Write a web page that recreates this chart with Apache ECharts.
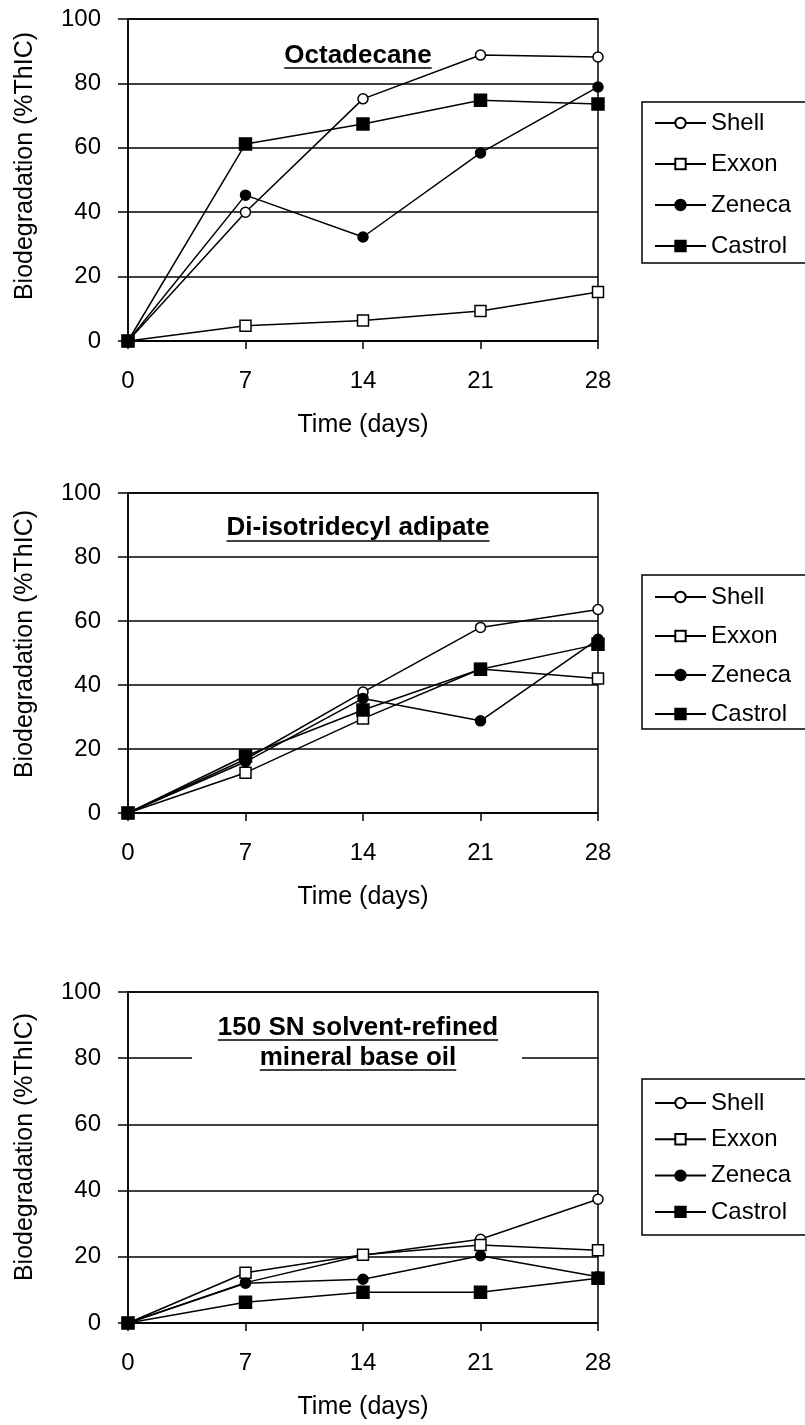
<!DOCTYPE html>
<html><head><meta charset="utf-8">
<script src="https://cdn.jsdelivr.net/npm/echarts@6/dist/echarts.min.js"></script>
<style>html,body{margin:0;padding:0;background:#fff}#c{width:805px;height:1425px}</style>
</head><body><div id="c"></div>
<script>
// ---- data ----
const days = [0, 7, 14, 21, 28];
const yTicks = [0, 20, 40, 60, 80, 100];
const seriesNames = ['Shell', 'Exxon', 'Zeneca', 'Castrol'];
const xTitle = 'Time (days)';
const yTitle = 'Biodegradation (%ThIC)';

// Chart 1: Octadecane
const octTitle = ['Octadecane'];
const octShell   = [0, 40.0, 75.2, 88.8, 88.2];
const octExxon   = [0, 4.7, 6.4, 9.3, 15.2];
const octZeneca  = [0, 45.3, 32.3, 58.4, 78.9];
const octCastrol = [0, 61.2, 67.4, 74.8, 73.6];

// Chart 2: Di-isotridecyl adipate
const adiTitle = ['Di-isotridecyl adipate'];
const adiShell   = [0, 16.8, 37.8, 58.0, 63.6];
const adiExxon   = [0, 12.6, 29.5, 45.0, 42.0];
const adiZeneca  = [0, 16.0, 35.8, 28.8, 54.3];
const adiCastrol = [0, 17.8, 32.2, 44.9, 52.7];

// Chart 3: 150 SN solvent-refined mineral base oil
const snTitle = ['150 SN solvent-refined', 'mineral base oil'];
const snShell   = [0, 12.2, 20.5, 25.3, 37.4];
const snExxon   = [0, 15.2, 20.6, 23.6, 22.0];
const snZeneca  = [0, 12.0, 13.2, 20.3, 14.0];
const snCastrol = [0, 6.3, 9.3, 9.3, 13.5];

const chartsData = [
  [octShell, octExxon, octZeneca, octCastrol],
  [adiShell, adiExxon, adiZeneca, adiCastrol],
  [snShell, snExxon, snZeneca, snCastrol]
];
const chartTitles = [octTitle, adiTitle, snTitle];

// ---- layout / style ----
const FONT = '"Liberation Sans", Arial, sans-serif';
const grids = [
  {left: 128, top: 19, width: 470, height: 322},
  {left: 128, top: 493, width: 470, height: 320},
  {left: 128, top: 992, width: 470, height: 331}
];
const legendPos = [
  {top: 102, padding: [9, 40, 5, 12], itemGap: 17},
  {top: 575, padding: [10, 40, 3, 12], itemGap: 15},
  {top: 1079, padding: [12, 40, 11, 12], itemGap: 12.3}
];
const titleLayout = [
  [{y: 56, uy: 68}],
  [{y: 528, uy: 541}],
  [{y: 1028, uy: 1040}, {y: 1058, uy: 1070}]
];
const yTitleY = [166, 644, 1147];
const symbolStyles = [
  {symbol: 'circle', size: 10, fill: '#fff'},
  {symbol: 'rect', size: 11, fill: '#fff'},
  {symbol: 'circle', size: 10, fill: '#000'},
  {symbol: 'rect', size: 12, fill: '#000'}
];

const xAxes = [], yAxes = [], series = [], legends = [], graphics = [];
const mctx = document.createElement('canvas').getContext('2d');
const TITLE_FONT_SIZE = 26;
mctx.font = 'bold ' + TITLE_FONT_SIZE + 'px "Liberation Sans"';

grids.forEach((g, ci) => {
  xAxes.push({
    type: 'value', gridIndex: ci,
    min: days[0], max: days[days.length - 1], interval: days[1] - days[0],
    axisLine: {show: true, lineStyle: {color: '#000', width: 1.5}},
    axisTick: {show: true, inside: false, length: 8, lineStyle: {color: '#000', width: 1.5}},
    axisLabel: {color: '#000', fontSize: 24, fontFamily: FONT, margin: 28},
    splitLine: {show: false},
    name: xTitle, nameLocation: 'middle', nameGap: 72,
    nameTextStyle: {color: '#000', fontSize: 25, fontFamily: FONT}
  });
  yAxes.push({
    type: 'value', gridIndex: ci,
    min: yTicks[0], max: yTicks[yTicks.length - 1], interval: yTicks[1] - yTicks[0],
    axisLine: {show: true, lineStyle: {color: '#000', width: 1.5}},
    axisTick: {show: true, inside: false, length: 10, lineStyle: {color: '#000', width: 1.5}},
    axisLabel: {color: '#000', fontSize: 24, fontFamily: FONT, margin: 27},
    splitLine: {show: true, lineStyle: {color: '#000', width: 1.5}}
  });
  seriesNames.forEach((nm, si) => {
    const st = symbolStyles[si];
    series.push({
      type: 'line', name: nm, xAxisIndex: ci, yAxisIndex: ci,
      data: days.map((d, k) => [d, chartsData[ci][si][k]]),
      symbol: st.symbol, symbolSize: st.size, showAllSymbol: true,
      itemStyle: {color: st.fill, borderColor: '#000', borderWidth: 1.5, opacity: 1},
      lineStyle: {color: '#000', width: 1.5},
      emphasis: {disabled: true}, animation: false, clip: false, z: 2 + si
    });
  });
  const lp = legendPos[ci];
  legends.push({
    data: seriesNames, orient: 'vertical', left: 642, top: lp.top,
    padding: lp.padding, itemGap: lp.itemGap, itemWidth: 51, itemHeight: 13,
    borderColor: '#000', borderWidth: 1.5, backgroundColor: '#fff',
    selectedMode: false,
    textStyle: {color: '#000', fontSize: 24, fontFamily: FONT}
  });
  // y-axis title
  graphics.push({
    type: 'text', x: 25, y: yTitleY[ci], rotation: Math.PI / 2, z: 20,
    style: {text: yTitle, fill: '#000', fontSize: 25, fontFamily: FONT, align: 'center', verticalAlign: 'middle'}
  });
  // plot title
  const lines = chartTitles[ci];
  const cx = 358;
  if (lines.length > 1) {
    graphics.push({type: 'rect', z: 15, shape: {x: 192, y: 1013, width: 330, height: 64}, style: {fill: '#fff'}});
  }
  lines.forEach((t, li) => {
    const L = titleLayout[ci][li];
    const w = mctx.measureText(t).width;
    graphics.push({
      type: 'text', x: cx, y: L.y, z: 20,
      style: {text: t, fill: '#000', fontSize: TITLE_FONT_SIZE, fontWeight: 'bold', fontFamily: FONT, align: 'center', verticalAlign: 'middle'}
    });
    graphics.push({
      type: 'line', z: 20,
      shape: {x1: cx - w / 2, y1: L.uy, x2: cx + w / 2, y2: L.uy},
      style: {stroke: '#000', lineWidth: 1.5}
    });
  });
});

const chart = echarts.init(document.getElementById('c'), null, {renderer: 'canvas'});
chart.setOption({
  backgroundColor: '#fff',
  animation: false,
  grid: grids.map(g => Object.assign({show: true, borderColor: '#000', borderWidth: 1.5, backgroundColor: 'transparent', containLabel: false, outerBoundsMode: 'none'}, g)),
  xAxis: xAxes,
  yAxis: yAxes,
  legend: legends,
  series: series,
  graphic: {elements: graphics}
});
</script>
</body></html>
